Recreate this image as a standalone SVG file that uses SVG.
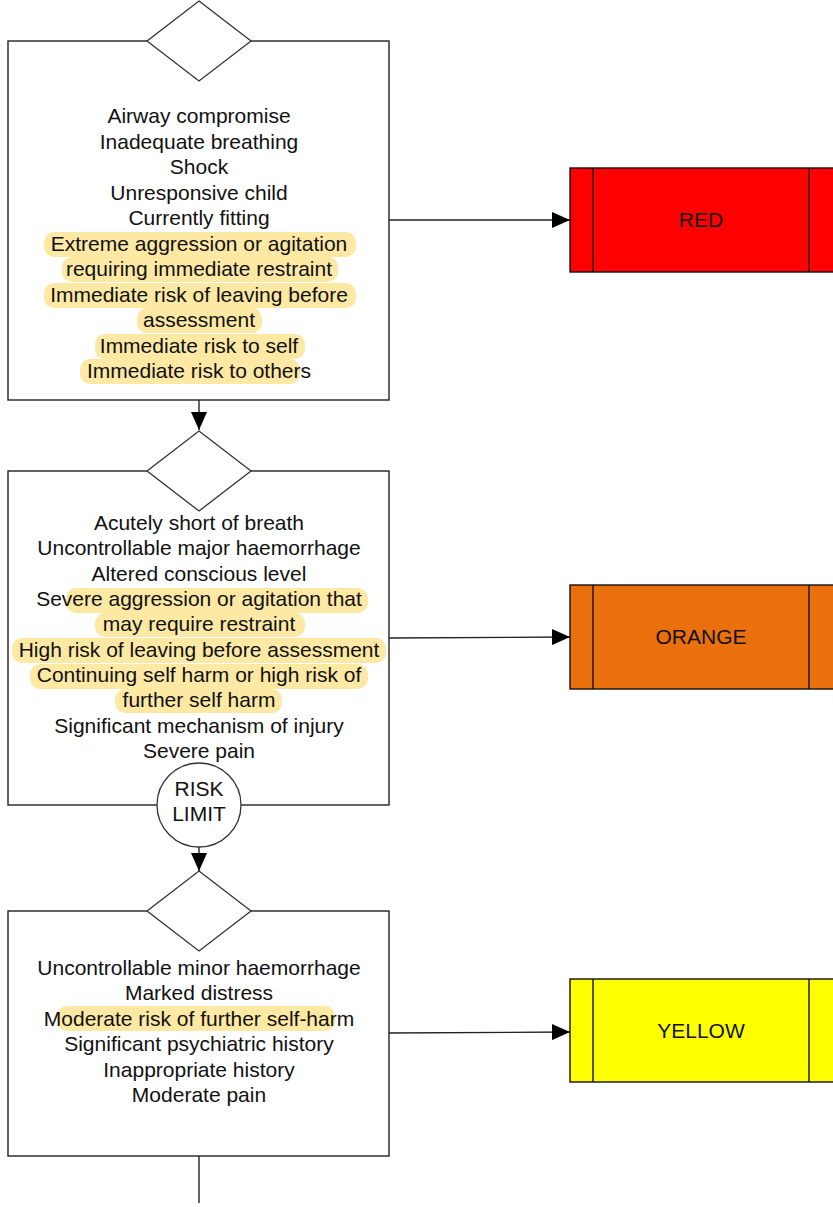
<svg xmlns="http://www.w3.org/2000/svg" width="833" height="1207" viewBox="0 0 833 1207">
<style>
.box{fill:#fff;stroke:#222;stroke-width:1.4}
.dia{fill:#fff;stroke:#333;stroke-width:1.3}
.hl{fill:#fde69a;opacity:0.9}
.t{font-family:"Liberation Sans",Arial,sans-serif;font-size:21px;fill:#111;text-anchor:middle}
.con{fill:none;stroke:#222;stroke-width:1.4}
.res{stroke:#111;stroke-width:1.4}
</style>
<defs>
<marker id="ah" viewBox="0 0 18 16" refX="18" refY="8" markerWidth="18" markerHeight="16" markerUnits="userSpaceOnUse" orient="auto">
<path d="M0,0 L18,8 L0,16 Z" fill="#000"/>
</marker>
</defs>
<rect width="833" height="1207" fill="#fff"/>

<g id="connectors">
<line class="con" x1="199" y1="400" x2="199" y2="430" marker-end="url(#ah)"/>
<line class="con" x1="389" y1="220" x2="570" y2="220" marker-end="url(#ah)"/>
<line class="con" x1="389" y1="638" x2="570" y2="637" marker-end="url(#ah)"/>
<line class="con" x1="199" y1="847" x2="199" y2="871" marker-end="url(#ah)"/>
<line class="con" x1="389" y1="1033" x2="570" y2="1032" marker-end="url(#ah)"/>
<line class="con" x1="199" y1="1156" x2="199" y2="1203"/>
</g>

<g id="box1">
<rect class="box" x="8" y="41" width="381" height="359"/>
<polygon class="dia" points="199,1 251,41 199,81 147,41"/>
<rect class="hl" x="44" y="232" width="312" height="25" rx="10"/>
<rect class="hl" x="62" y="257" width="276" height="25" rx="10"/>
<rect class="hl" x="44" y="283" width="312" height="25" rx="10"/>
<rect class="hl" x="137" y="308" width="125" height="25" rx="10"/>
<rect class="hl" x="95" y="334" width="210" height="25" rx="10"/>
<rect class="hl" x="80" y="359" width="220" height="25" rx="10"/>
<text class="t" x="199" y="123">Airway compromise</text>
<text class="t" x="199" y="148.5">Inadequate breathing</text>
<text class="t" x="199" y="174">Shock</text>
<text class="t" x="199" y="199.5">Unresponsive child</text>
<text class="t" x="199" y="225">Currently fitting</text>
<text class="t" x="199" y="250.5">Extreme aggression or agitation</text>
<text class="t" x="199" y="276">requiring immediate restraint</text>
<text class="t" x="199" y="301.5">Immediate risk of leaving before</text>
<text class="t" x="199" y="327">assessment</text>
<text class="t" x="199" y="352.5">Immediate risk to self</text>
<text class="t" x="199" y="378">Immediate risk to others</text>
</g>

<g id="box2">
<rect class="box" x="8" y="471" width="381" height="334"/>
<polygon class="dia" points="199,431 251,471 199,511 147,471"/>
<rect class="hl" x="66" y="588" width="302" height="25" rx="10"/>
<rect class="hl" x="95" y="613" width="210" height="24" rx="10"/>
<rect class="hl" x="12" y="638" width="374" height="25" rx="10"/>
<rect class="hl" x="30" y="664" width="338" height="25" rx="10"/>
<rect class="hl" x="115" y="689" width="167" height="24" rx="10"/>
<text class="t" x="199" y="530">Acutely short of breath</text>
<text class="t" x="199" y="555.3">Uncontrollable major haemorrhage</text>
<text class="t" x="199" y="580.6">Altered conscious level</text>
<text class="t" x="199" y="606">Severe aggression or agitation that</text>
<text class="t" x="199" y="631.3">may require  restraint</text>
<text class="t" x="199" y="656.6">High risk of leaving before assessment</text>
<text class="t" x="199" y="682">Continuing self harm or high risk of</text>
<text class="t" x="199" y="707.3">further self harm</text>
<text class="t" x="199" y="732.6">Significant mechanism of injury</text>
<text class="t" x="199" y="758">Severe pain</text>
</g>

<g id="risklimit">
<circle class="dia" cx="199" cy="805" r="42"/>
<text class="t" x="199" y="796">RISK</text>
<text class="t" x="199" y="821">LIMIT</text>
</g>

<g id="box3">
<rect class="box" x="8" y="911" width="381" height="245"/>
<polygon class="dia" points="199,871 251,911 199,951 147,911"/>
<rect class="hl" x="57" y="1006" width="278" height="25" rx="10"/>
<text class="t" x="199" y="975">Uncontrollable minor haemorrhage</text>
<text class="t" x="199" y="1000.4">Marked distress</text>
<text class="t" x="199" y="1025.8">Moderate risk of further self-harm</text>
<text class="t" x="199" y="1051.2">Significant psychiatric history</text>
<text class="t" x="199" y="1076.6">Inappropriate history</text>
<text class="t" x="199" y="1102">Moderate pain</text>
</g>

<g id="red">
<rect class="res" x="570" y="168" width="265" height="104" fill="#ff0000"/>
<line class="res" x1="593" y1="168" x2="593" y2="272"/>
<line class="res" x1="809" y1="168" x2="809" y2="272"/>
<text class="t" x="701" y="227">RED</text>
</g>

<g id="orange">
<rect class="res" x="570" y="585" width="265" height="104" fill="#ea700e"/>
<line class="res" x1="593" y1="585" x2="593" y2="689"/>
<line class="res" x1="809" y1="585" x2="809" y2="689"/>
<text class="t" x="701" y="644">ORANGE</text>
</g>

<g id="yellow">
<rect class="res" x="570" y="979" width="265" height="103" fill="#ffff00"/>
<line class="res" x1="593" y1="979" x2="593" y2="1082"/>
<line class="res" x1="809" y1="979" x2="809" y2="1082"/>
<text class="t" x="701" y="1038">YELLOW</text>
</g>
</svg>
